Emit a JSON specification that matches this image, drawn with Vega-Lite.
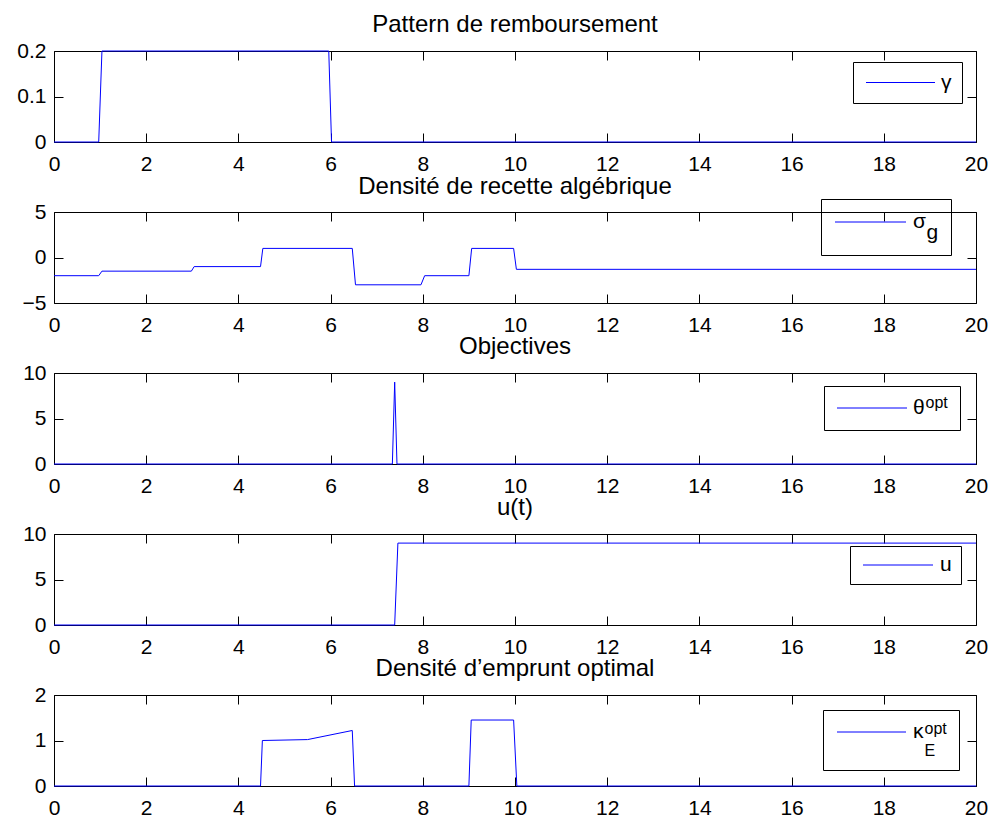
{
  "$schema": "https://vega.github.io/schema/vega-lite/v6.json",
  "background": "white",
  "padding": {"left": 16, "top": 13, "right": 2, "bottom": 2},
  "datasets": {
    "gamma": [
      {"t": 0, "v": 0, "s": "γ"}, {"t": 0.97, "v": 0, "s": "γ"}, {"t": 1.04, "v": 0.2, "s": "γ"},
      {"t": 5.96, "v": 0.2, "s": "γ"}, {"t": 6.02, "v": 0, "s": "γ"}, {"t": 20, "v": 0, "s": "γ"}
    ],
    "sigma": [
      {"t": 0, "v": -2, "s": "σ"}, {"t": 0.97, "v": -2, "s": "σ"}, {"t": 1.04, "v": -1.5, "s": "σ"},
      {"t": 2.98, "v": -1.5, "s": "σ"}, {"t": 3.04, "v": -1, "s": "σ"}, {"t": 4.48, "v": -1, "s": "σ"},
      {"t": 4.53, "v": 1, "s": "σ"}, {"t": 6.47, "v": 1, "s": "σ"}, {"t": 6.54, "v": -3, "s": "σ"},
      {"t": 7.96, "v": -3, "s": "σ"}, {"t": 8.04, "v": -2, "s": "σ"}, {"t": 9.0, "v": -2, "s": "σ"},
      {"t": 9.06, "v": 1, "s": "σ"}, {"t": 9.97, "v": 1, "s": "σ"}, {"t": 10.03, "v": -1.3, "s": "σ"},
      {"t": 20, "v": -1.3, "s": "σ"}
    ],
    "theta": [
      {"t": 0, "v": 0, "s": "θ"}, {"t": 7.34, "v": 0, "s": "θ"}, {"t": 7.39, "v": 9, "s": "θ"},
      {"t": 7.44, "v": 0, "s": "θ"}, {"t": 20, "v": 0, "s": "θ"}
    ],
    "u": [
      {"t": 0, "v": 0, "s": "u"}, {"t": 7.39, "v": 0, "s": "u"}, {"t": 7.46, "v": 9, "s": "u"}, {"t": 20, "v": 9, "s": "u"}
    ],
    "kappa": [
      {"t": 0, "v": 0, "s": "κ"}, {"t": 4.48, "v": 0, "s": "κ"}, {"t": 4.52, "v": 1.0, "s": "κ"},
      {"t": 5.5, "v": 1.02, "s": "κ"}, {"t": 6.47, "v": 1.22, "s": "κ"}, {"t": 6.52, "v": 0, "s": "κ"},
      {"t": 9.0, "v": 0, "s": "κ"}, {"t": 9.05, "v": 1.45, "s": "κ"}, {"t": 9.97, "v": 1.45, "s": "κ"},
      {"t": 10.04, "v": 0, "s": "κ"}, {"t": 20, "v": 0, "s": "κ"}
    ]
  },
  "spacing": 0,
  "vconcat": [
    {
      "title": {"text": "Pattern de remboursement"},
      "width": 922, "height": 91,
      "data": {"name": "gamma"},
      "layer": [
        {"mark": {"type": "line", "strokeWidth": 1},
         "encoding": {
           "x": {"field": "t", "type": "quantitative", "scale": {"domain": [0, 20], "nice": false, "zero": false},
                 "axis": {"orient": "bottom", "title": null, "values": [0,2,4,6,8,10,12,14,16,18,20], "format": "~r"}},
           "y": {"field": "v", "type": "quantitative", "scale": {"domain": [0, 0.2], "nice": false, "zero": false},
                 "axis": {"orient": "left", "title": null, "values": [0, 0.1, 0.2], "format": "~r"}},
           "color": {"field": "s", "type": "nominal", "scale": {"range": ["#0000ff"]},
                     "legend": {"title": null, "orient": "none", "legendX": 799, "legendY": 11, "padding": 10,
                                "symbolType": "M-1.5,0H12.3", "labelOffset": 57}}
         }},
        {"mark": {"type": "line", "opacity": 0},
         "encoding": {
           "x": {"field": "t", "type": "quantitative", "axis": {"orient": "top", "title": null, "labels": false, "values": [0,2,4,6,8,10,12,14,16,18,20]}},
           "y": {"field": "v", "type": "quantitative", "axis": {"orient": "right", "title": null, "labels": false, "values": [0, 0.1, 0.2]}}
         }}
      ],
      "resolve": {"axis": {"x": "independent", "y": "independent"}}
    },
    {
      "title": {"text": "Densité de recette algébrique", "offset": 0},
      "width": 922, "height": 91,
      "data": {"name": "sigma"},
      "layer": [
        {"mark": {"type": "line", "strokeWidth": 1},
         "encoding": {
           "x": {"field": "t", "type": "quantitative", "scale": {"domain": [0, 20], "nice": false, "zero": false},
                 "axis": {"orient": "bottom", "title": null, "values": [0,2,4,6,8,10,12,14,16,18,20], "format": "~r"}},
           "y": {"field": "v", "type": "quantitative", "scale": {"domain": [-5, 5], "nice": false, "zero": false},
                 "axis": {"orient": "left", "title": null, "values": [-5, 0, 5], "format": "~r"}},
           "color": {"field": "s", "type": "nominal", "scale": {"range": ["#0000ff"]},
                     "legend": {"title": "g", "titleFontSize": 21, "titleBaseline": "top",
                                "orient": "none", "legendX": 767, "legendY": -13, "padding": 12.5,
                                "symbolType": "M-1.8,0H12.4", "labelOffset": 58.5}}
         }},
        {"mark": {"type": "line", "opacity": 0},
         "encoding": {
           "x": {"field": "t", "type": "quantitative", "axis": {"orient": "top", "title": null, "labels": false, "values": [0,2,4,6,8,10,12,14,16,18,20]}},
           "y": {"field": "v", "type": "quantitative", "axis": {"orient": "right", "title": null, "labels": false, "values": [-5, 0, 5]}}
         }}
      ],
      "resolve": {"axis": {"x": "independent", "y": "independent"}}
    },
    {
      "title": {"text": "Objectives"},
      "width": 922, "height": 91,
      "data": {"name": "theta"},
      "layer": [
        {"mark": {"type": "line", "strokeWidth": 1},
         "encoding": {
           "x": {"field": "t", "type": "quantitative", "scale": {"domain": [0, 20], "nice": false, "zero": false},
                 "axis": {"orient": "bottom", "title": null, "values": [0,2,4,6,8,10,12,14,16,18,20], "format": "~r"}},
           "y": {"field": "v", "type": "quantitative", "scale": {"domain": [0, 10], "nice": false, "zero": false},
                 "axis": {"orient": "left", "title": null, "values": [0, 5, 10], "format": "~r"}},
           "color": {"field": "s", "type": "nominal", "scale": {"range": ["#0000ff"]},
                     "legend": {"title": "opt", "titleFontSize": 16, "titleBaseline": "alphabetic",
                                "orient": "none", "legendX": 770, "legendY": 13, "padding": 11.5,
                                "symbolType": "M-1.8,0H12.2", "labelOffset": 56.5}}
         }},
        {"mark": {"type": "line", "opacity": 0},
         "encoding": {
           "x": {"field": "t", "type": "quantitative", "axis": {"orient": "top", "title": null, "labels": false, "values": [0,2,4,6,8,10,12,14,16,18,20]}},
           "y": {"field": "v", "type": "quantitative", "axis": {"orient": "right", "title": null, "labels": false, "values": [0, 5, 10]}}
         }}
      ],
      "resolve": {"axis": {"x": "independent", "y": "independent"}}
    },
    {
      "title": {"text": "u(t)"},
      "width": 922, "height": 91,
      "data": {"name": "u"},
      "layer": [
        {"mark": {"type": "line", "strokeWidth": 1},
         "encoding": {
           "x": {"field": "t", "type": "quantitative", "scale": {"domain": [0, 20], "nice": false, "zero": false},
                 "axis": {"orient": "bottom", "title": null, "values": [0,2,4,6,8,10,12,14,16,18,20], "format": "~r"}},
           "y": {"field": "v", "type": "quantitative", "scale": {"domain": [0, 10], "nice": false, "zero": false},
                 "axis": {"orient": "left", "title": null, "values": [0, 5, 10], "format": "~r"}},
           "color": {"field": "s", "type": "nominal", "scale": {"range": ["#0000ff"]},
                     "legend": {"title": null, "orient": "none", "legendX": 796, "legendY": 12, "padding": 8.5,
                                "symbolType": "M-1.2,0H12.8", "labelOffset": 60.5}}
         }},
        {"mark": {"type": "line", "opacity": 0},
         "encoding": {
           "x": {"field": "t", "type": "quantitative", "axis": {"orient": "top", "title": null, "labels": false, "values": [0,2,4,6,8,10,12,14,16,18,20]}},
           "y": {"field": "v", "type": "quantitative", "axis": {"orient": "right", "title": null, "labels": false, "values": [0, 5, 10]}}
         }}
      ],
      "resolve": {"axis": {"x": "independent", "y": "independent"}}
    },
    {
      "title": {"text": "Densité d’emprunt optimal"},
      "width": 922, "height": 91,
      "data": {"name": "kappa"},
      "layer": [
        {"mark": {"type": "line", "strokeWidth": 1},
         "encoding": {
           "x": {"field": "t", "type": "quantitative", "scale": {"domain": [0, 20], "nice": false, "zero": false},
                 "axis": {"orient": "bottom", "title": null, "values": [0,2,4,6,8,10,12,14,16,18,20], "format": "~r"}},
           "y": {"field": "v", "type": "quantitative", "scale": {"domain": [0, 2], "nice": false, "zero": false},
                 "axis": {"orient": "left", "title": null, "values": [0, 1, 2], "format": "~r"}},
           "color": {"field": "s", "type": "nominal", "scale": {"range": ["#0000ff"]},
                     "legend": {"title": ["opt", "E"], "titleFontSize": 16, "titleBaseline": "top", "titleLineHeight": 22,
                                "orient": "none", "legendX": 769, "legendY": 15, "padding": 11.5,
                                "symbolType": "M-1.6,0H12.2", "labelOffset": 57.5}}
         }},
        {"mark": {"type": "line", "opacity": 0},
         "encoding": {
           "x": {"field": "t", "type": "quantitative", "axis": {"orient": "top", "title": null, "labels": false, "values": [0,2,4,6,8,10,12,14,16,18,20]}},
           "y": {"field": "v", "type": "quantitative", "axis": {"orient": "right", "title": null, "labels": false, "values": [0, 1, 2]}}
         }}
      ],
      "resolve": {"axis": {"x": "independent", "y": "independent"}}
    }
  ],
  "resolve": {
    "scale": {"color": "independent", "x": "independent", "y": "independent"},
    "legend": {"color": "independent"}
  },
  "config": {
    "view": {"stroke": null},
    "axis": {
      "grid": false, "domainColor": "black", "domainWidth": 1, "tickColor": "black", "tickWidth": 1, "tickSize": -9,
      "labelFont": "Liberation Sans", "labelFontSize": 21, "labelColor": "black", "labelFlush": false, "labelOverlap": false
    },
    "axisX": {"labelPadding": 20},
    "axisY": {"labelPadding": 17},
    "title": {"font": "Liberation Sans", "fontSize": 24, "fontWeight": "normal", "color": "black", "frame": "group", "anchor": "middle", "offset": 3},
    "legend": {
      "symbolSize": 100, "symbolStrokeWidth": 1, "symbolStrokeColor": "#0000ff",
      "strokeColor": "black", "cornerRadius": 0,
      "labelFont": "Liberation Sans", "labelFontSize": 21, "labelColor": "black", "labelLimit": 300,
      "titleFont": "Liberation Sans", "titleFontWeight": "normal", "titleColor": "black",
      "titleOrient": "right", "titleAnchor": "middle", "titlePadding": 1, "titleLimit": 300
    }
  }
}
